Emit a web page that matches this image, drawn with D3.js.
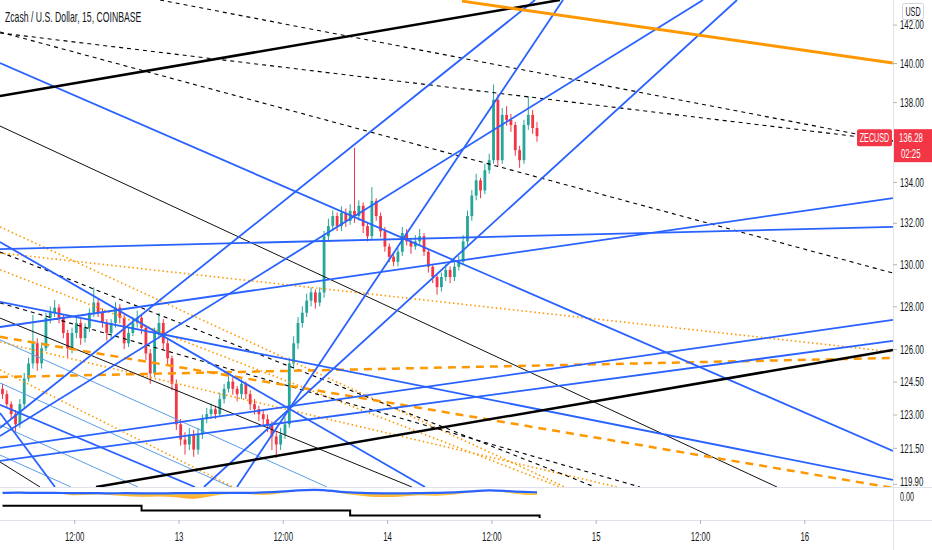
<!DOCTYPE html>
<html>
<head>
<meta charset="utf-8">
<script src="https://cdn.jsdelivr.net/npm/d3@7"></script>
<style>
  body { margin: 0; background: #fff; }
  svg { display: block; }
</style>
</head>
<body>
<div id="chart"></div>
<script>
// ZEC/USD 30-min candles, 12th 03:30 -> 14th 17:00 (prices)
const firstOpen = 124.17;
const closes = [
  123.93,123.47,123.02,122.56,123.47,124.64,125.34,126.27,125.34,126.04,
  127.46,127.70,127.94,127.46,126.75,126.04,126.75,127.22,126.51,126.99,
  127.70,128.18,127.70,127.22,126.75,127.22,127.94,127.46,126.27,126.75,
  127.22,127.46,126.99,125.80,124.87,126.75,127.22,126.27,125.57,124.40,
  122.56,121.87,121.65,122.10,121.42,122.10,122.79,123.02,123.24,123.02,
  123.70,124.17,124.50,124.17,123.93,124.40,123.93,123.47,123.24,123.02,
  122.79,122.56,122.01,121.65,122.10,122.56,125.34,126.27,127.22,127.70,
  128.27,128.66,128.18,128.66,131.35,131.84,132.33,131.84,132.48,132.09,
  132.58,132.33,132.83,131.84,131.35,133.07,132.33,131.59,130.85,130.36,
  130.12,130.60,131.50,131.10,130.85,131.10,131.35,130.60,129.88,129.39,
  128.91,129.39,129.73,129.39,129.88,130.12,131.10,132.33,133.33,134.08,
  133.58,134.58,135.08,138.12,135.08,137.35,137.10,136.84,135.58,135.08,
  136.84,137.35,136.69,136.28
];
const highs = [
  124.40,124.10,123.60,123.20,123.70,124.90,125.60,127.60,126.50,126.30,
  127.70,128.00,128.30,128.10,127.60,126.90,127.00,127.50,127.40,127.20,
  127.90,128.90,128.40,127.90,127.40,127.40,128.20,128.10,127.60,127.00,
  127.50,127.80,127.60,127.10,126.00,127.00,127.70,127.40,126.50,125.70,
  124.60,122.80,122.20,122.40,122.30,122.40,123.00,123.30,123.50,123.40,
  124.00,124.40,124.80,124.70,124.30,124.60,124.50,124.10,123.70,123.40,
  123.20,123.00,122.70,122.20,122.40,122.90,125.60,126.60,127.50,128.00,
  128.60,128.90,128.80,128.90,131.60,132.20,132.60,132.50,132.80,132.70,
  132.90,135.70,133.10,133.00,132.00,133.75,133.20,132.50,131.80,131.00,
  130.50,130.80,131.80,131.70,131.20,131.40,131.70,131.50,130.70,130.00,
  129.50,129.60,130.00,129.90,130.10,130.40,131.40,132.60,133.60,134.40,
  134.20,134.90,135.40,138.90,138.40,137.70,137.80,137.40,137.00,135.80,
  137.10,138.30,137.60,137.00
];
const lows = [
  123.70,123.30,122.80,122.20,122.40,123.30,124.50,125.10,125.00,125.10,
  125.90,127.20,127.50,127.20,126.50,125.60,125.80,126.50,126.20,126.30,
  126.80,127.50,127.50,127.00,126.40,126.50,127.00,127.20,126.00,126.10,
  126.60,127.00,126.70,125.50,124.40,124.70,126.50,126.00,125.30,124.10,
  122.30,121.60,121.20,121.40,121.10,121.20,121.90,122.60,122.80,122.80,
  122.90,123.50,124.00,123.90,123.60,123.70,123.70,123.20,123.00,122.70,
  122.50,122.20,121.40,121.05,121.40,121.90,122.40,125.10,126.00,127.00,
  127.50,128.00,127.90,128.00,128.40,131.10,131.60,131.60,131.60,131.80,
  131.90,132.00,132.10,131.50,131.10,131.20,132.10,131.30,130.60,130.10,
  129.90,129.90,130.40,130.90,130.50,130.70,130.90,130.40,129.60,129.10,
  128.55,128.70,129.20,129.10,129.20,129.70,130.00,130.90,132.10,133.10,
  133.20,133.40,134.40,134.90,134.80,134.90,136.80,136.50,135.30,134.70,
  134.90,136.60,136.40,136.00
];

// drawings: [hours from 12th 00:00, price, hours, price]
const blueLines = [
  [3.46, 140.00, 106.2, 121.36],
  [3.46, 130.73, 106.2, 131.80],
  [3.46, 127.03, 106.2, 133.21],
  [3.46, 131.07, 52.36, 119.76],
  [3.46, 128.21, 106.2, 120.07],
  [3.46, 123.44, 25.90, 119.76],
  [3.46, 123.07, 9.79, 119.76],
  [3.46, 122.39, 65.02, 143.29],
  [3.46, 122.03, 84.35, 143.29],
  [30.73, 119.76, 68.24, 143.29],
  [26.93, 119.76, 88.26, 143.29],
  [3.46, 121.50, 106.2, 127.36],
  [3.46, 120.92, 106.2, 126.38]
];
const lightBlueLines = [
  [3.46, 126.43, 41.09, 119.76],
  [3.46, 124.44, 30.04, 119.76],
  [3.46, 122.53, 19.34, 119.76],
  [3.46, 121.18, 11.63, 119.76]
];
const blackThick = [
  [3.46, 138.31, 67.89, 143.29],
  [14.51, 119.76, 106.2, 125.96]
];
const blackThin = [
  [3.46, 136.79, 92.86, 119.76],
  [3.46, 127.45, 50.86, 119.76],
  [3.46, 120.87, 8.07, 119.76]
];
const blackDashed = [
  [21.87, 143.29, 106.2, 136.04],
  [3.46, 141.56, 106.2, 136.04],
  [3.46, 141.61, 106.2, 129.58],
  [3.46, 130.59, 71.92, 119.76],
  [3.46, 128.16, 77.10, 119.76]
];
const orangeSolid = [
  [56.62, 143.23, 106.2, 140.00]
];
const orangeDashed = [
  [3.46, 126.57, 106.2, 119.72],
  [3.46, 124.71, 106.2, 125.59]
];
const orangeDotted = [
  [3.46, 130.54, 106.2, 125.87],
  [3.46, 131.80, 68.47, 119.76],
  [3.46, 129.74, 67.89, 119.76],
  [3.46, 126.33, 74.45, 119.76],
  [3.46, 125.04, 30.27, 119.76]
];

// lower pane, one value per 4 bars (last one on the last bar)
const oscBlue = [0.3,0.5,0.2,0.4,0.1,0.3,0.0,0.2,0.1,0.0,0.2,0.1,0.3,0.4,0.2,0.5,
                 0.9,1.6,2.0,1.3,0.4,0.2,0.1,0.0,0.2,0.3,0.5,1.0,1.8,1.2,0.8,0.6];
const oscFill = [0,0,0,0,-1.0,-0.6,-0.3,-1.2,-1.4,-1.0,-1.5,-2.5,-1.2,-0.4,-0.2,-1.2,
                 -0.6,0,0,-0.3,-0.8,-1.4,-1.5,-1.2,-0.6,-1.3,-0.8,-0.3,0,-0.6,-1.3,-1.0];
const stepBars = [0, 32, 80, 123, 123.6];
const stepLevels = [3, 2, 1, 1, 0.5];

const priceTicks = [119.9, 121.5, 123, 124.5, 126, 128, 130, 132, 134, 138, 140, 142];
const lastPrice = 136.28;
const countdown = "02:25";
const title = "Zcash / U.S. Dollar, 15, COINBASE";

const width = 932, height = 550;
const plotW = 893, mainH = 487, oscBottom = 520;
const squeeze = 0.6;
const font = "'Liberation Sans', Arial, sans-serif";
const ink = "#131722";
const upColor = "#26a69a", downColor = "#f23645";

const day0 = Date.UTC(2021, 8, 12);
const at = h => new Date(day0 + h * 3600e3);
const barStart = 3.5, barHours = 0.5;

const x = d3.scaleUtc().domain([at(3.463), at(106.21)]).range([0, plotW]);
const y = d3.scaleLog().domain([143.29, 119.76]).range([0, mainH]);
const osc = d3.scaleLinear().domain([-3, 3]).range([499.5, 487.5]);
const stepY = d3.scaleLinear().domain([1, 3]).range([515.5, 505.7]);
const barX = i => x(at(barStart + barHours * i + barHours / 2));

const svg = d3.select("#chart")
  .append("svg")
  .attr("width", width)
  .attr("height", height)
  .style("font-family", font);

svg.append("rect").attr("width", width).attr("height", height).attr("fill", "#fff");

const defs = svg.append("defs");
defs.append("clipPath").attr("id", "clipMain")
  .append("rect").attr("width", plotW).attr("height", mainH);
defs.append("clipPath").attr("id", "clipOsc")
  .append("rect").attr("y", mainH).attr("width", plotW).attr("height", oscBottom - mainH);
const grad = defs.append("linearGradient").attr("id", "oscGrad")
  .attr("x1", 0).attr("x2", 0).attr("y1", 0).attr("y2", 1);
grad.append("stop").attr("offset", "0%").attr("stop-color", "#ffeb3b");
grad.append("stop").attr("offset", "100%").attr("stop-color", "#ff8f00");

// candles
const candles = closes.map((c, i) => ({
  i, o: i ? closes[i - 1] : firstOpen, h: highs[i], l: lows[i], c
}));
const main = svg.append("g").attr("clip-path", "url(#clipMain)");
const cg = main.append("g");
cg.selectAll("line")
  .data(candles)
  .join("line")
  .attr("x1", d => barX(d.i)).attr("x2", d => barX(d.i))
  .attr("y1", d => y(d.h)).attr("y2", d => y(d.l))
  .attr("stroke", d => d.c >= d.o ? upColor : downColor)
  .attr("stroke-width", 1);
cg.selectAll("rect")
  .data(candles)
  .join("rect")
  .attr("x", d => barX(d.i) - 1.4)
  .attr("width", 2.8)
  .attr("y", d => y(Math.max(d.o, d.c)))
  .attr("height", d => Math.max(1, Math.abs(y(d.o) - y(d.c))))
  .attr("fill", d => d.c >= d.o ? upColor : downColor);

// trend lines
function drawSet(data, stroke, w, dash) {
  main.append("g")
    .selectAll("line")
    .data(data)
    .join("line")
    .attr("x1", d => x(at(d[0]))).attr("y1", d => y(d[1]))
    .attr("x2", d => x(at(d[2]))).attr("y2", d => y(d[3]))
    .attr("stroke", stroke)
    .attr("stroke-width", w)
    .attr("stroke-dasharray", dash || null)
    .attr("fill", "none");
}
drawSet(lightBlueLines, "#5b9ee6", 1);
drawSet(orangeDotted, "#ff9800", 1.6, "1.5,2.8");
drawSet(blackDashed, "#000", 1.1, "4,4");
drawSet(blackThin, "#111", 1);
drawSet(orangeDashed, "#ff9800", 2.5, "8,6");
drawSet(blueLines, "#2962ff", 1.8);
drawSet(blackThick, "#000", 2.5);
drawSet(orangeSolid, "#ff9800", 3);

// lower pane
const oscPts = oscBlue.map((v, k) => ({ i: Math.min(k * 4, closes.length - 1), v, f: oscFill[k] }));
const og = svg.append("g").attr("clip-path", "url(#clipOsc)");
og.append("path")
  .datum(oscPts)
  .attr("d", d3.area()
    .x(d => barX(d.i))
    .y0(d => osc(d.v))
    .y1(d => osc(d.v + d.f * 1.3))
    .curve(d3.curveBasis))
  .attr("fill", "url(#oscGrad)")
  .attr("opacity", 0.85);
og.append("path")
  .datum(oscPts)
  .attr("d", d3.line().x(d => barX(d.i)).y(d => osc(d.v)).curve(d3.curveBasis))
  .attr("fill", "none")
  .attr("stroke", "#2962ff")
  .attr("stroke-width", 2.2);

svg.append("path")
  .datum(stepBars.map((b, k) => [barX(b), stepY(stepLevels[k])]))
  .attr("d", d3.line().curve(d3.curveStepAfter))
  .attr("fill", "none")
  .attr("stroke", "#000")
  .attr("stroke-width", 2);

// pane borders
const border = "#e0e3eb";
svg.append("line").attr("x1", 0).attr("x2", width).attr("y1", mainH + 0.5).attr("y2", mainH + 0.5)
  .attr("stroke", border);
svg.append("line").attr("x1", 0).attr("x2", width).attr("y1", oscBottom + 0.5).attr("y2", oscBottom + 0.5)
  .attr("stroke", border);
svg.append("line").attr("x1", plotW + 0.5).attr("x2", plotW + 0.5).attr("y1", 0).attr("y2", height)
  .attr("stroke", border);

// price axis
const yAxis = svg.append("g")
  .attr("transform", `translate(${plotW},0)`)
  .call(d3.axisRight(y).tickValues(priceTicks).tickFormat(d3.format(".2f")).tickSize(4));
yAxis.select(".domain").remove();
yAxis.selectAll("line").attr("stroke", "#b2b5be");
yAxis.selectAll("text")
  .attr("x", 0)
  .attr("transform", d => `translate(7,${d < 120 ? -2.5 : 0}) scale(${squeeze},1)`)
  .attr("font-size", 13)
  .attr("font-family", font)
  .attr("fill", ink);

svg.append("text")
  .attr("transform", `translate(${plotW + 7},${osc(0) + 7}) scale(${squeeze},1)`)
  .attr("font-size", 12)
  .attr("fill", ink)
  .text("0.00");

// time axis
const xAxis = svg.append("g")
  .attr("transform", `translate(0,${oscBottom})`)
  .call(d3.axisBottom(x)
    .ticks(d3.utcHour.every(12))
    .tickFormat(d => d.getUTCHours() ? "12:00" : String(d.getUTCDate()))
    .tickSize(4)
    .tickPadding(8));
xAxis.select(".domain").remove();
xAxis.selectAll("line").attr("stroke", "#b2b5be");
xAxis.selectAll("text")
  .attr("transform", `scale(${squeeze},1)`)
  .attr("font-size", 13)
  .attr("font-family", font)
  .attr("fill", ink);
xAxis.selectAll(".tick").filter(d => x(d) > plotW - 5).remove();

// title
svg.append("text")
  .attr("transform", `translate(5,22) scale(0.62,1)`)
  .attr("font-size", 14)
  .attr("fill", ink)
  .text(title);

// last price labels
const py = y(lastPrice);
svg.append("rect")
  .attr("x", plotW + 1).attr("y", py - 7)
  .attr("width", width - plotW - 1).attr("height", 33)
  .attr("fill", downColor);
svg.append("text")
  .attr("transform", `translate(${plotW + 6},${py + 6}) scale(${squeeze},1)`)
  .attr("font-size", 13).attr("fill", "#fff")
  .text(lastPrice.toFixed(2));
svg.append("text")
  .attr("transform", `translate(${plotW + 8},${py + 22}) scale(${squeeze},1)`)
  .attr("font-size", 13).attr("fill", "#fff")
  .text(countdown);
svg.append("rect")
  .attr("x", plotW - 36).attr("y", py - 7)
  .attr("width", 35).attr("height", 17).attr("rx", 2)
  .attr("fill", downColor);
svg.append("text")
  .attr("transform", `translate(${plotW - 18.5},${py + 6}) scale(${squeeze},1)`)
  .attr("text-anchor", "middle")
  .attr("font-size", 12).attr("fill", "#fff")
  .text("ZECUSD");

// currency badge
svg.append("rect")
  .attr("x", 902.5).attr("y", 3.5).attr("width", 21).attr("height", 16).attr("rx", 2)
  .attr("fill", "#fff").attr("stroke", "#d1d4dc");
svg.append("text")
  .attr("transform", `translate(913,16) scale(${squeeze},1)`)
  .attr("text-anchor", "middle")
  .attr("font-size", 12).attr("fill", ink)
  .text("USD");
</script>
</body>
</html>
